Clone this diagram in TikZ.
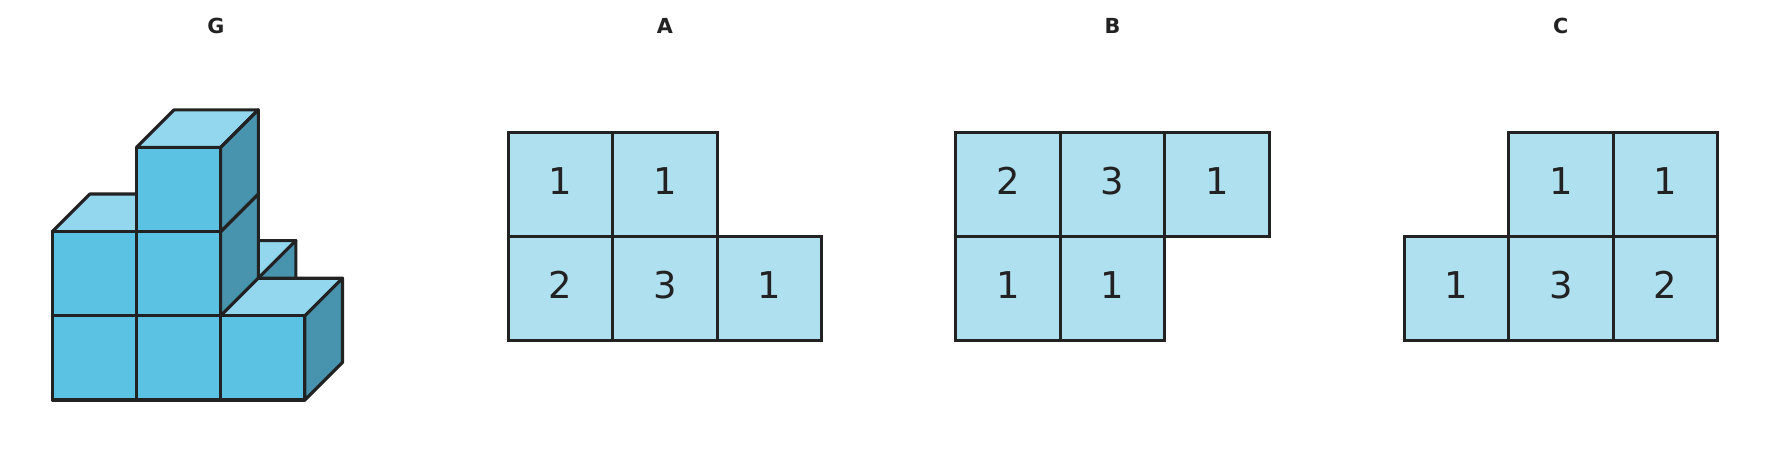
\documentclass[tikz,border=0pt]{standalone}
\usepackage{fontspec}
\setmainfont{DejaVu Sans}
\usepackage{tikz}
\definecolor{inkc}{HTML}{222222}
\definecolor{celc}{HTML}{AFE0F0}
\definecolor{frtc}{HTML}{5BC2E3}
\definecolor{topc}{HTML}{93D7EF}
\definecolor{sidc}{HTML}{4893AE}
\tikzset{
  cel/.style={rectangle,draw=inkc,fill=celc,minimum width=1.045cm,minimum height=1.04cm,inner sep=0pt,line width=.88pt,
    text=inkc,text height=.27cm,text depth=.08cm,font=\fontsize{10.5}{12}\selectfont},
  ttl/.style={anchor=base,text=inkc,font=\fontsize{5.9}{7}\selectfont\bfseries},
  frt/.style={draw=inkc,fill=frtc,line width=.88pt,line join=round},
  top/.style={draw=inkc,fill=topc,line width=.88pt,line join=round},
  sid/.style={draw=inkc,fill=sidc,line width=.88pt,line join=round},
}
% one block: column, depth, height
\newcommand{\blockat}[3]{
  \begin{scope}[shift={({.523+.842*#1+.376*#2},{.52+.842*#3+.376*#2})}]
    \draw[top] (0,.842)--(.842,.842)--(1.218,1.218)--(.376,1.218)--cycle;
    \draw[sid] (.842,0)--(1.218,.376)--(1.218,1.218)--(.842,.842)--cycle;
    \draw[frt] (0,0) rectangle (.842,.842);
  \end{scope}
}
\begin{document}
\begin{tikzpicture}
\useasboundingbox (0,0) rectangle (17.76,4.52);
\node[ttl] (tG) at (2.16,4.185) {G};
\blockat{1}{1}{0}
\foreach \h in {0,1} {\blockat{0}{0}{\h}}
\foreach \h in {0,1,2} {\blockat{1}{0}{\h}}
\blockat{2}{0}{0}
\begin{scope}
  \node[ttl] (tA) at (6.648,4.185) {A};
  \node[cel] (a1) at (5.603,2.675) {1}; \node[cel] (a2) at (6.648,2.675) {1};
  \node[cel] (a3) at (5.603,1.635) {2}; \node[cel] (a4) at (6.648,1.635) {3};
  \node[cel] (a5) at (7.693,1.635) {1};
\end{scope}
\begin{scope}[xshift=4.477cm]
  \node[ttl] (tB) at (6.648,4.185) {B};
  \node[cel] (b1) at (5.603,2.675) {2}; \node[cel] (b2) at (6.648,2.675) {3};
  \node[cel] (b3) at (7.693,2.675) {1}; \node[cel] (b4) at (5.603,1.635) {1};
  \node[cel] (b5) at (6.648,1.635) {1};
\end{scope}
\begin{scope}[xshift=8.96cm]
  \node[ttl] (tC) at (6.648,4.185) {C};
  \node[cel] (c1) at (6.648,2.675) {1}; \node[cel] (c2) at (7.693,2.675) {1};
  \node[cel] (c3) at (5.603,1.635) {1}; \node[cel] (c4) at (6.648,1.635) {3};
  \node[cel] (c5) at (7.693,1.635) {2};
\end{scope}
\end{tikzpicture}
\end{document}
